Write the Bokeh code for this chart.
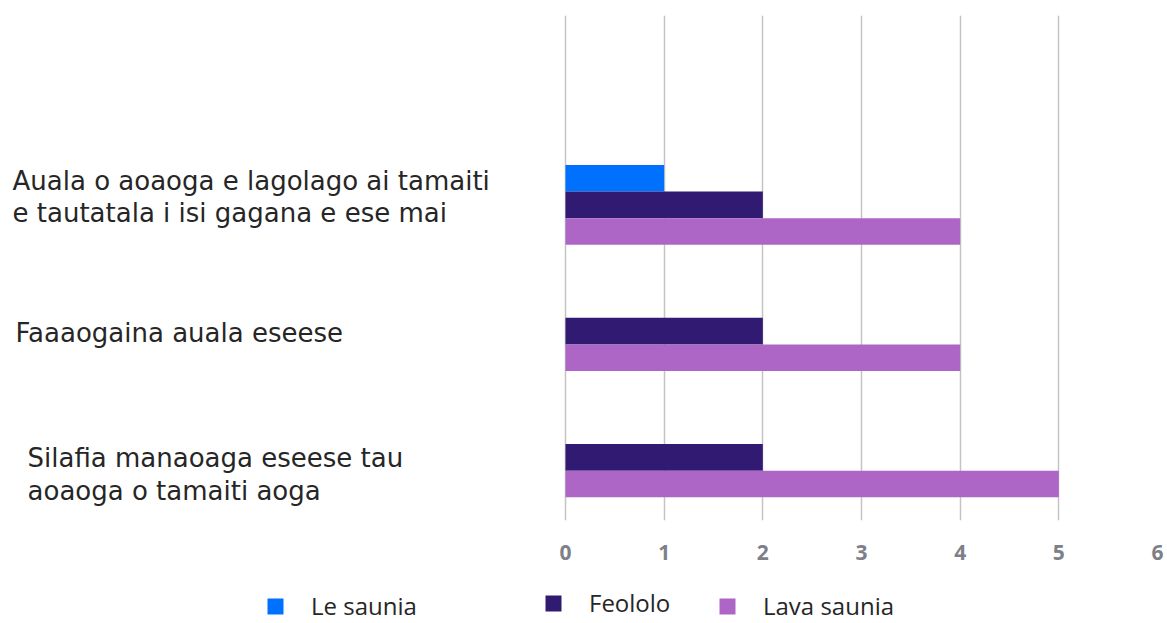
from bokeh.plotting import figure
from bokeh.models import ColumnDataSource, FixedTicker, Legend, LegendItem, Range1d
from bokeh.layouts import column
from bokeh.transform import dodge
from bokeh.core.properties import value
from bokeh.embed import file_html
from bokeh.resources import INLINE

# ---- data ----
categories = [
    "Silafia manaoaga eseese tau\naoaoga o tamaiti aoga",
    "Faaaogaina auala eseese",
    "Auala o aoaoga e lagolago ai tamaiti\ne tautatala i isi gagana e ese mai",
]
cat_pos = [0.5, 1.5, 2.5]
le_saunia = [0, 0, 1]
feololo = [2, 2, 2]
lava_saunia = [5, 4, 4]
series_names = ["Le saunia", "Feololo", "Lava saunia"]
x_ticks = [0, 1, 2, 3, 4, 5, 6]

# ---- styling / layout ----
colors = ["#0070FF", "#311A72", "#AE66C6"]
label_dx = [15, 3, 0]     # px shifts of the category labels
label_dy = [17, 2, -8]

src = ColumnDataSource(dict(y=cat_pos, le=le_saunia, fe=feololo, la=lava_saunia,
                            label=categories, dx=label_dx, dy=label_dy))

W = 1167
p = figure(width=W, height=573, output_backend="svg", toolbar_location=None,
           x_range=Range1d(-5.726, 6), y_range=Range1d(0, 4),
           min_border_left=0, min_border_right=10, min_border_top=15, min_border_bottom=53)
p.outline_line_color = None
p.yaxis.visible = False
p.ygrid.grid_line_color = None

p.xaxis.ticker = FixedTicker(ticks=x_ticks)
p.xgrid.ticker = FixedTicker(ticks=x_ticks)
p.xgrid.grid_line_color = "#c4c4c4"
p.xgrid.grid_line_width = 1.5
p.xaxis.axis_line_color = None
p.xaxis.major_tick_line_color = None
p.xaxis.minor_tick_line_color = None
p.xaxis.major_tick_out = 0
p.xaxis.major_tick_in = 0
p.xaxis.major_label_standoff = 24
p.xaxis.major_label_text_font = "Open Sans"
p.xaxis.major_label_text_font_size = "21px"
p.xaxis.major_label_text_font_style = "bold"
p.xaxis.major_label_text_color = "#7d8088"

bh = 0.21
r1 = p.hbar(y=dodge("y", bh, range=p.y_range), right="le", left=0, height=bh, source=src,
            fill_color=colors[0], line_color=None)
r2 = p.hbar(y=dodge("y", 0, range=p.y_range), right="fe", left=0, height=bh, source=src,
            fill_color=colors[1], line_color=None)
r3 = p.hbar(y=dodge("y", -bh, range=p.y_range), right="la", left=0, height=bh, source=src,
            fill_color=colors[2], line_color=None)

p.text(x=-5.604, y="y", text="label", x_offset="dx", y_offset="dy", source=src,
       text_align="left", text_baseline="middle",
       text_font=value("DejaVu Sans"), text_font_size="26px", text_color="#262626",
       text_line_height=1.09)

# ---- legend strip ----
p2 = figure(width=W, height=49, output_backend="svg", toolbar_location=None,
            x_axis_type=None, y_axis_type=None, x_range=Range1d(0, 1), y_range=Range1d(0, 1),
            min_border_left=0, min_border_right=0, min_border_top=0, min_border_bottom=0)
p2.outline_line_color = None
p2.grid.visible = False

legend_x = [265, 543, 717]
legend_y = [0, 3, 0]
for col, name, lx, ly in zip(colors, series_names, legend_x, legend_y):
    # zero-area proxy glyph, only used for the legend swatch
    dummy = p2.quad(left=[0], right=[0], top=[0], bottom=[0], fill_color=col, line_color=None)
    lg = Legend(items=[LegendItem(label=name, renderers=[dummy])], location=(lx, ly),
                orientation="horizontal", glyph_width=20, glyph_height=20,
                label_standoff=26, padding=0, margin=0, border_line_color=None,
                background_fill_alpha=0, label_text_font="Open Sans",
                label_text_font_size="24px", label_text_color="#262626")
    p2.add_layout(lg, "center")

open("out.html", "w").write(file_html(column(p, p2), INLINE))
